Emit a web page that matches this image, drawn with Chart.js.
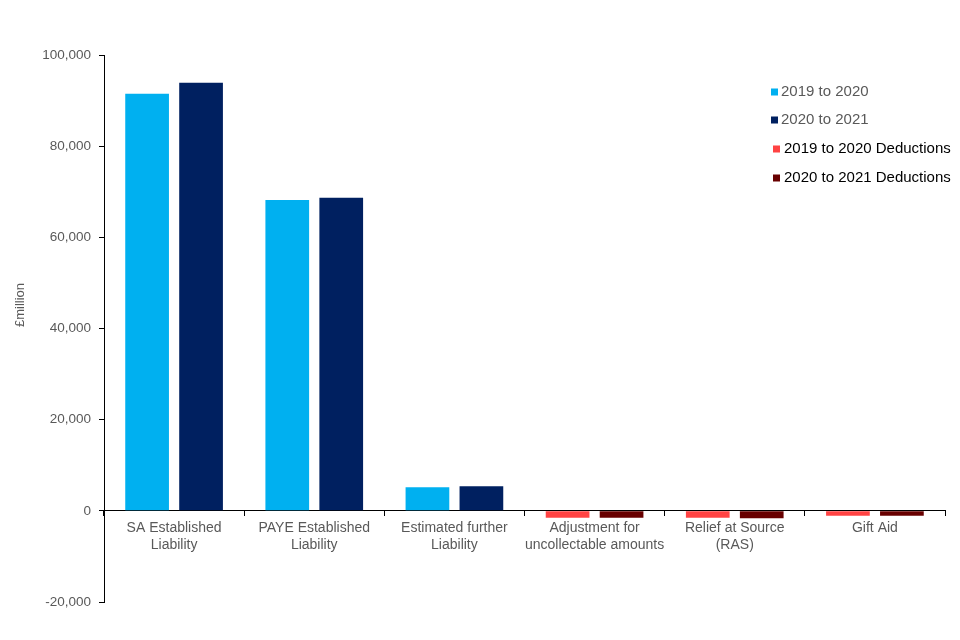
<!DOCTYPE html>
<html>
<head>
<meta charset="utf-8">
<script src="https://cdn.jsdelivr.net/npm/chart.js@4"></script>
<style>
  html, body { margin: 0; padding: 0; background: #fff; }
  #wrap { width: 960px; height: 640px; }
</style>
</head>
<body>
<div id="wrap"><canvas id="barChart"></canvas></div>
<script>
// data
const categories = [
  ['SA Established', 'Liability'],
  ['PAYE Established', 'Liability'],
  ['Estimated further', 'Liability'],
  ['Adjustment for', 'uncollectable amounts'],
  ['Relief at Source', '(RAS)'],
  'Gift Aid'
];
const y2019 = [91500, 68200, 5200, null, null, null];
const y2020 = [93900, 68700, 5400, null, null, null];
const ded2019 = [null, null, null, -1500, -1500, -1100];
const ded2020 = [null, null, null, -1500, -1600, -1100];
const yTicks = [-20000, 0, 20000, 40000, 60000, 80000, 100000];
const yTitle = '£million';

const grey = '#595959';
Chart.defaults.font.family = '"Liberation Sans", Arial, sans-serif';
Chart.defaults.font.size = 13;
Chart.defaults.color = grey;

// legend and y title drawn by hand
const sideLegend = {
  id: 'sideLegend',
  afterDraw(chart) {
    const ctx = chart.ctx;
    const rows = [92, 120, 149, 178];
    ctx.save();
    ctx.font = '15px "Liberation Sans", Arial, sans-serif';
    ctx.textBaseline = 'middle';
    chart.data.datasets.forEach(function(ds, i) {
      const y = rows[i];
      const ded = i > 1;
      ctx.fillStyle = ds.backgroundColor;
      ctx.fillRect(ded ? 773 : 771, y - 3.5, 7, 7);
      ctx.fillStyle = ded ? '#000' : grey;
      ctx.fillText(ds.label, ded ? 784 : 781, y);
    });
    // axis title
    ctx.font = '13px "Liberation Sans", Arial, sans-serif';
    ctx.fillStyle = grey;
    ctx.textAlign = 'center';
    ctx.translate(20, 305);
    ctx.rotate(-Math.PI / 2);
    ctx.fillText(yTitle, 0, 0);
    ctx.restore();
  }
};

const barData = {
  labels: categories,
  datasets: [
    { label: '2019 to 2020', data: y2019, backgroundColor: '#00B0F0', stack: 'a' },
    { label: '2020 to 2021', data: y2020, backgroundColor: '#002060', stack: 'b' },
    { label: '2019 to 2020 Deductions', data: ded2019, backgroundColor: '#FF4343', stack: 'a' },
    { label: '2020 to 2021 Deductions', data: ded2020, backgroundColor: '#680000', stack: 'b' }
  ]
};

const barConfig = {
  type: 'bar',
  data: barData,
  plugins: [sideLegend],
  options: {
    responsive: true,
    maintainAspectRatio: false,
    animation: false,
    categoryPercentage: 0.77,
    barPercentage: 0.81,
    layout: { padding: { left: 0, right: 15, top: 55, bottom: 38 } },
    plugins: {
      legend: { display: false },
      tooltip: { enabled: false }
    },
    scales: {
      x: {
        stacked: true,
        position: { y: 0 },
        grid: { display: true, drawOnChartArea: false, tickLength: 5, color: '#000' },
        border: { color: '#000' },
        ticks: { color: grey, padding: 4, maxRotation: 0, autoSkip: false, font: { size: 14 } }
      },
      y: {
        stacked: true,
        min: -20000,
        max: 100000,
        afterFit(scale) { scale.width = 104; },
        afterBuildTicks(scale) { scale.ticks = yTicks.map(v => ({ value: v })); },
        grid: { display: true, drawOnChartArea: false, tickLength: 5, color: '#000' },
        border: { color: '#000' },
        ticks: {
          color: grey,
          padding: 8,
          font: { size: 13.5 },
          callback: v => v.toLocaleString('en-GB')
        }
      }
    }
  }
};

var bar_area = document.getElementById('barChart');
var myBarChart = new Chart(bar_area, barConfig);
</script>
</body>
</html>
